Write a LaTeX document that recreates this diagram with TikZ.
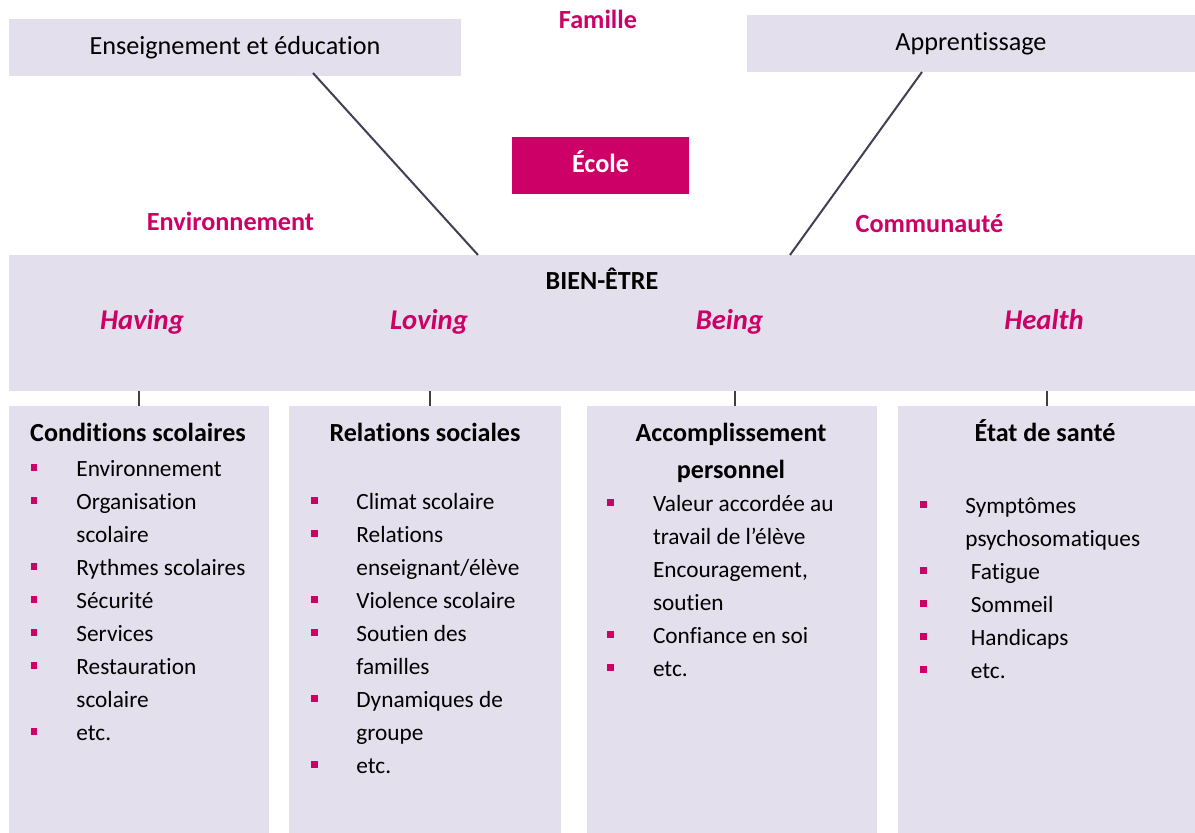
\documentclass[tikz,border=0pt]{standalone}
\usepackage{fontspec}
\setmainfont{Carlito}[Ligatures={TeX,NoCommon}]
\usepackage{tikz}
\usetikzlibrary{calc,positioning}
\definecolor{lavender}{HTML}{E4DFEC}
\definecolor{schoolpink}{HTML}{CC0066}
\definecolor{linkgray}{HTML}{433E52}
\newcommand{\bul}{\textcolor{schoolpink}{\rule[3pt]{3.2pt}{3.5pt}}}

\begin{document}
\begin{tikzpicture}[x=0.5pt,y=-0.5pt,
  box/.style={
    fill=lavender,
    rectangle,
    inner sep=0pt, outer sep=0pt},
  toptext/.style={font=\fontsize{13.1}{15}\selectfont, text height=9pt, text depth=2pt},
  context/.style={font=\fontsize{13.1}{15}\selectfont\bfseries, text=schoolpink, anchor=base},
  dimension/.style={font=\fontsize{14.3}{17}\selectfont\bfseries\itshape, text=schoolpink, anchor=base},
  coltitle/.style={font=\fontsize{13.05}{18.5}\selectfont\bfseries, align=center, anchor=base},
  collist/.style={font=\fontsize{11.65}{16.5}\selectfont, anchor=base west, inner sep=0pt},
  link/.style={draw=linkgray, line width=1pt},
  tick/.style={draw=black!75, line width=1pt},
  ]

  \useasboundingbox (0,0) rectangle (1195,833);

  \node (ens) [box, toptext, minimum width=226pt, minimum height=28.5pt] at (235,47.5) {Enseignement et éducation};
  \node (app) [box, toptext, minimum width=224pt, minimum height=28.5pt] at (971,43.5) {Apprentissage};
  \node (ecole) [rectangle, fill=schoolpink, text=white, font=\fontsize{13.1}{15}\selectfont\bfseries, text height=9pt, text depth=2pt, minimum width=88.5pt, minimum height=28.5pt, inner sep=0pt] at (600.5,165.5) {École};

  \node (famille) [context] at (598,29) {Famille};
  \node (envt) [context] at (230.5,231) {Environnement};
  \node (commu) [context] at (929.5,233) {Communauté};

  \node (wb) [box, minimum width=593pt, minimum height=68pt] at (602,323) {};
  \node (wbtitle) [coltitle] at (602,290) {BIEN-ÊTRE};
  \node (having) [dimension] at (142,330) {Having};
  \node (loving) [dimension] at (429,330) {Loving};
  \node (being) [dimension] at (729.5,330) {Being};
  \node (health) [dimension] at (1044,330) {Health};

  \node (cond) [box, minimum width=130pt, minimum height=213.5pt] at (139,619.5) {};
  \node (rel) [box, minimum width=136pt, minimum height=213.5pt] at (425,619.5) {};
  \node (acc) [box, minimum width=145pt, minimum height=213.5pt] at (732,619.5) {};
  \node (sante) [box, minimum width=148.5pt, minimum height=213.5pt] at (1046.5,619.5) {};

  \node (condtitle) [coltitle] at (138,442) {Conditions scolaires};
  \node (reltitle) [coltitle] at (425,442) {Relations sociales};
  \node (acctitle) [coltitle] at (731,479) {Accomplissement\\personnel};
  \node (santetitle) [coltitle] at (1045,442) {État de santé};

  \node (condlist) [collist] at (30.6,477) {\begin{tabular}[t]{@{}p{22.7pt}@{}l@{}}
    \bul & Environnement\\
    \bul & Organisation\\
         & scolaire\\
    \bul & Rythmes scolaires\\
    \bul & Sécurité\\
    \bul & Services\\
    \bul & Restauration\\
         & scolaire\\
    \bul & etc.
  \end{tabular}};
  \node (rellist) [collist] at (311,510) {\begin{tabular}[t]{@{}p{22.5pt}@{}l@{}}
    \bul & Climat scolaire\\
    \bul & Relations\\
         & enseignant/élève\\
    \bul & Violence scolaire\\
    \bul & Soutien des\\
         & familles\\
    \bul & Dynamiques de\\
         & groupe\\
    \bul & etc.
  \end{tabular}};
  \node (acclist) [collist] at (607,512) {\begin{tabular}[t]{@{}p{22.8pt}@{}l@{}}
    \bul & Valeur accordée au\\
         & travail de l’élève\\
         & Encouragement,\\
         & soutien\\
    \bul & Confiance en soi\\
    \bul & etc.
  \end{tabular}};
  \node (santelist) [collist] at (920,514) {\begin{tabular}[t]{@{}p{22.5pt}@{}l@{}}
    \bul & Symptômes\\
         & psychosomatiques\\
    \bul & \hspace{2.75pt}Fatigue\\
    \bul & \hspace{2.75pt}Sommeil\\
    \bul & \hspace{2.75pt}Handicaps\\
    \bul & \hspace{2.75pt}etc.
  \end{tabular}};

  \draw[link] ($(ens.south)+(78,-3)$) -- ($(wb.north)+(-124,0)$);
  \draw[link] ($(app.south)+(-49,0)$) -- ($(wb.north)+(188,0)$);

  \draw[tick] (cond.north) -- (cond.north |- wb.south);
  \draw[tick] ($(rel.north)+(5,0)$) -- ($(rel.north |- wb.south)+(5,0)$);
  \draw[tick] ($(acc.north)+(3,0)$) -- ($(acc.north |- wb.south)+(3,0)$);
  \draw[tick] (sante.north) -- (sante.north |- wb.south);

\end{tikzpicture}
\end{document}
